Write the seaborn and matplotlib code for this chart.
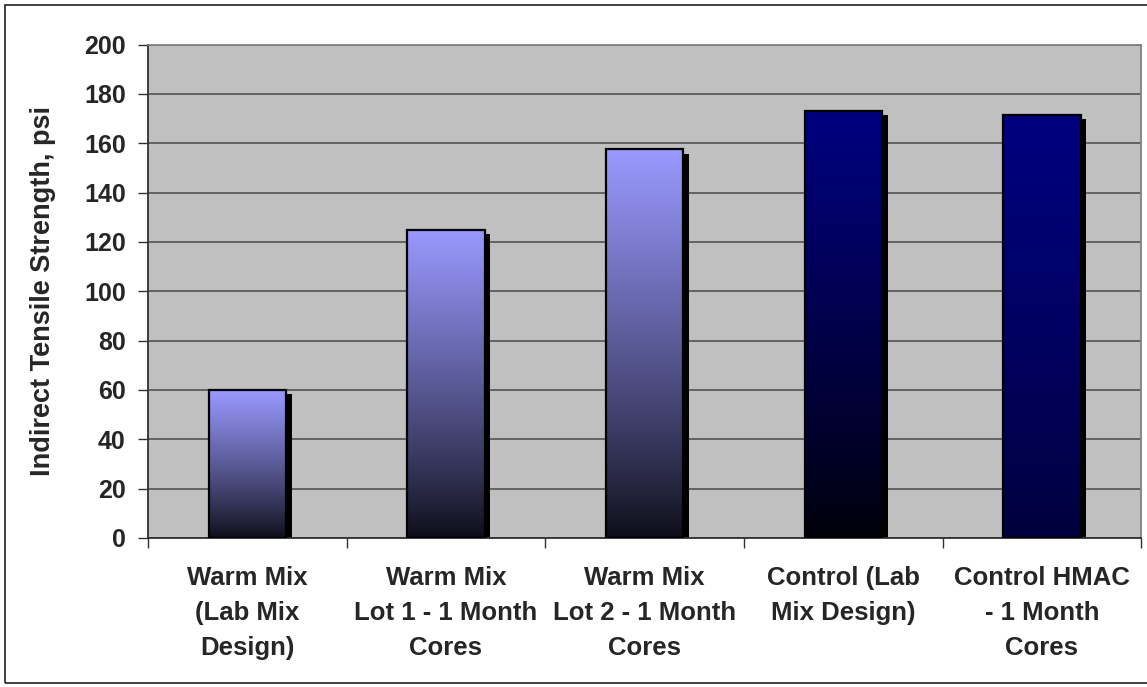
import numpy as np
import pandas as pd
import matplotlib
matplotlib.use("Agg")
import matplotlib.pyplot as plt
import matplotlib.patheffects as pe
from matplotlib.patches import Rectangle
from matplotlib.colors import to_rgb
import seaborn as sns

# --- data ---
categories = [
    "Warm Mix\n(Lab Mix\nDesign)",
    "Warm Mix\nLot 1 - 1 Month\nCores",
    "Warm Mix\nLot 2 - 1 Month\nCores",
    "Control (Lab\nMix Design)",
    "Control HMAC\n- 1 Month\nCores",
]
strength_psi = [60, 125, 157.5, 173, 171.5]
y_ticks = list(range(0, 201, 20))

# gradient colours (top -> bottom) for each bar
top_colors = ["#9999FF", "#9999FF", "#9999FF", "#000080", "#000080"]
bottom_colors = ["#0c0c16", "#0c0c16", "#0c0c16", "#000008", "#00003c"]

df = pd.DataFrame({"category": categories, "strength": strength_psi})

sns.set_style("white", rc={"axes.facecolor": "#C0C0C0"})
plt.rcParams["font.family"] = ["Liberation Sans", "DejaVu Sans"]
plt.rcParams["font.weight"] = "bold"

fig = plt.figure(figsize=(11.47, 6.87), dpi=100)
ax = fig.add_axes([0.129, 0.217, 0.866, 0.718])

sns.barplot(data=df, x="category", y="strength", ax=ax, color="#9999FF",
            width=0.39, saturation=1, zorder=2)

# gradient fill, drop shadow and outline for each bar
for p, c_top, c_bot in zip(ax.patches, top_colors, bottom_colors):
    p.set_path_effects([pe.SimplePatchShadow(offset=(4, -3), shadow_rgbFace="black", alpha=1.0),
                        pe.Normal()])
    p.set_edgecolor("none")
    t = np.linspace(0, 1, 256) ** 0.85  # 0 at bottom, 1 at top
    rgb = np.outer(1 - t, to_rgb(c_bot)) + np.outer(t, to_rgb(c_top))
    grad = rgb[::-1][:, None, :]
    x0, w, h = p.get_x(), p.get_width(), p.get_height()
    im = ax.imshow(grad, extent=[x0, x0 + w, 0, h], aspect="auto", zorder=2.5,
                   interpolation="bilinear")
    im.set_clip_path(p)
    ax.add_patch(Rectangle((x0, 0), w, h, fill=False, edgecolor="black",
                           lw=1.6, zorder=3))

ax.set_xlim(-0.5, len(categories) - 0.5)
ax.set_ylim(0, 200)
ax.set_yticks(y_ticks)
ax.set_aspect("auto")

ax.set_axisbelow(True)
ax.yaxis.grid(True, color="#5c5c5c", lw=1.3)
ax.xaxis.grid(False)

ax.set_xlabel("")
ax.set_ylabel("Indirect Tensile Strength, psi", fontsize=19.5, fontweight="bold", labelpad=20)

# category labels centred, tick marks at the category boundaries
ax.set_xticks(range(len(categories)))
ax.set_xticklabels(categories, fontsize=18.5, fontweight="bold", linespacing=1.6)
ax.tick_params(axis="x", which="major", length=0, pad=20)
ax.set_xticks(np.arange(-0.5, len(categories)), minor=True)
ax.tick_params(axis="x", which="minor", direction="out", length=7, width=1, color="#303030", bottom=True)
ax.tick_params(axis="y", direction="out", length=7, width=1, color="#303030", left=True,
               labelsize=18, pad=9)
for lab in ax.get_yticklabels():
    lab.set_fontweight("bold")

for side in ["left", "bottom"]:
    ax.spines[side].set_color("#303030")
    ax.spines[side].set_linewidth(1.3)
for side in ["top", "right"]:
    ax.spines[side].set_color("#808080")
    ax.spines[side].set_linewidth(1.3)

# outer chart frame
fig.patches.append(Rectangle((0.0044, 0.0058), 1.5, 0.9869, transform=fig.transFigure,
                             fill=False, edgecolor="#202020", lw=1.2))

fig.savefig("out.png", dpi=100)
